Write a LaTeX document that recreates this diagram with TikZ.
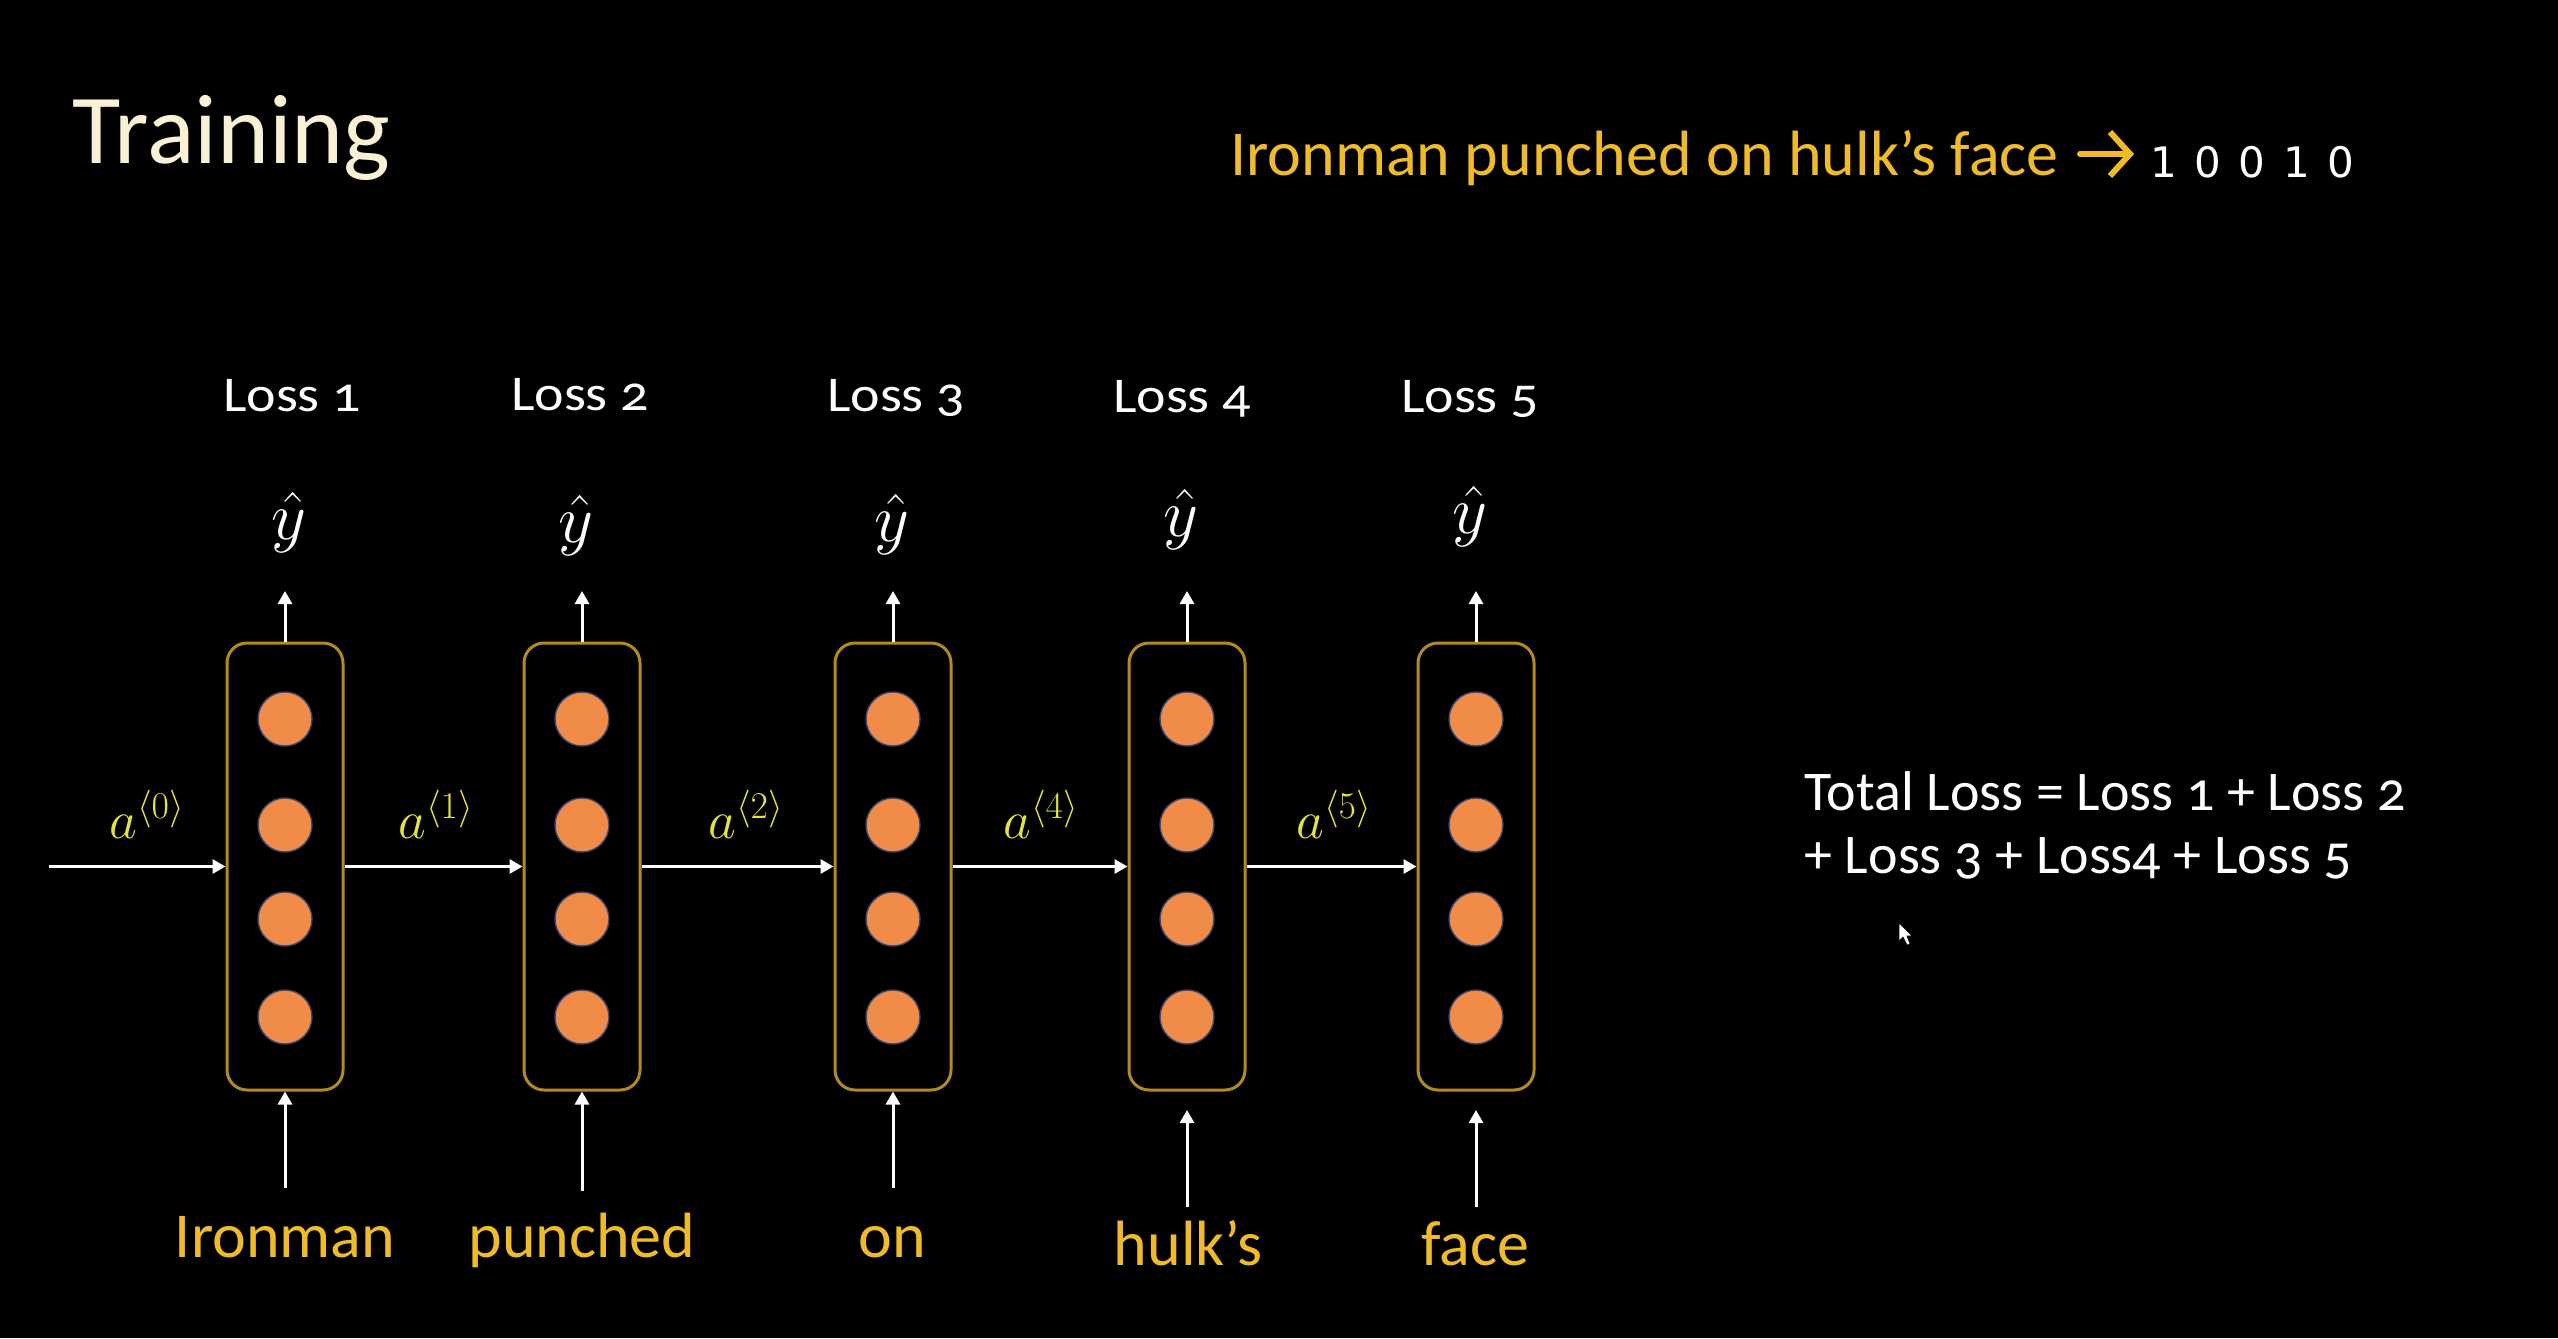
\RequirePackage{fix-cm}
\documentclass[tikz,border=0pt]{standalone}
\usepackage{fontspec}
\setmainfont{Carlito}[Numbers=OldStyle]
\newfontfamily\widefont{Carlito}[Numbers=OldStyle,FakeStretch=1.12]
\newfontfamily\digitfont{DejaVu Sans}[LetterSpace=10]
\usetikzlibrary{arrows.meta}
\definecolor{titlecream}{RGB}{250,240,212}
\definecolor{gold}{RGB}{240,187,40}
\definecolor{boxgold}{RGB}{178,138,30}
\definecolor{neuron}{RGB}{240,140,72}
\definecolor{neuronrim}{RGB}{55,70,115}
\definecolor{alabel}{RGB}{228,228,60}
\begin{document}
\begin{tikzpicture}[x=0.5pt,y=-0.5pt,
  txt/.style={inner sep=0pt,anchor=base},
  cell/.style={draw=boxgold,line width=1.5pt,rounded corners=10pt,minimum width=58pt,minimum height=223.5pt,inner sep=0pt},
  neu/.style={circle,fill=neuron,draw=neuronrim,line width=0.7pt,minimum size=27pt,inner sep=0pt},
  arr/.style={draw=white,line width=1.5pt,-{Triangle[length=6.5pt,width=7pt]}},
  losslbl/.style={txt,text=white,font=\widefont\fontsize{25}{28}\selectfont},
  yhat/.style={inner sep=0pt,text=white,font=\fontsize{34}{38}\selectfont},
  alab/.style={txt,text=alabel,font=\fontsize{27}{30}\selectfont},
  word/.style={txt,text=gold,font=\fontsize{32}{36}\selectfont}]
\fill[black] (0,0) rectangle (2558,1338);
\useasboundingbox (0,0) rectangle (2558,1338);

% titles
\node[txt,anchor=base west,text=titlecream,font=\fontsize{49.5}{56}\selectfont] (title) at (72,163) {Training};
\node[txt,anchor=base west,text=gold,font=\fontsize{32}{36}\selectfont] (sent) at (1230,175) {Ironman punched on hulk’s face};
\coordinate (ar1) at (2080,154);
\coordinate (ar2) at (2130,154);
\draw[gold,line width=3pt,line cap=round,line join=miter] (ar1) -- (ar2);
\draw[gold,line width=3pt,line join=miter] (2110,132) -- (ar2) -- (2110,176);
\node[txt,anchor=base west,text=white,font=\digitfont\fontsize{21}{24}\selectfont] (labels) at (2150,177) {1 0 0 1 0};

% cells
\foreach \i/\x in {1/285,2/582,3/893,4/1187,5/1476}{
  \node[cell] (b\i) at (\x,866.5) {};
  \node[neu] (c\i1) at (\x,719) {};
  \node[neu] (c\i2) at (\x,825) {};
  \node[neu] (c\i3) at (\x,919) {};
  \node[neu] (c\i4) at (\x,1017) {};
}

% loss labels
\node[losslbl] (l1) at (292,411) {Loss 1};
\node[losslbl] (l2) at (580,410) {Loss 2};
\node[losslbl] (l3) at (896,411) {Loss 3};
\node[losslbl] (l4) at (1182,412) {Loss 4};
\node[losslbl] (l5) at (1470,412) {Loss 5};

% yhat
\node[yhat] (y1) at (289,522) {$\hat{y}$};
\node[yhat] (y2) at (576,525) {$\hat{y}$};
\node[yhat] (y3) at (892,524) {$\hat{y}$};
\node[yhat] (y4) at (1181,519) {$\hat{y}$};
\node[yhat] (y5) at (1470,516) {$\hat{y}$};

% output arrows
\foreach \i/\x in {1/285,2/582,3/893,4/1187,5/1476}{
  \coordinate (t\i) at (\x,591);
  \draw[arr] (b\i.north) -- (t\i);
}

% recurrent arrows
\coordinate (in0) at (49,866.5);
\draw[arr] (in0) -- (b1.west);
\draw[arr] (b1.east) -- (b2.west);
\draw[arr] (b2.east) -- (b3.west);
\draw[arr] (b3.east) -- (b4.west);
\draw[arr] (b4.east) -- (b5.west);

% activation labels
\node[alab] (a0) at (147,838) {$a^{\langle 0\rangle}$};
\node[alab] (a1) at (436,838) {$a^{\langle 1\rangle}$};
\node[alab] (a2) at (746,838) {$a^{\langle 2\rangle}$};
\node[alab] (a4) at (1041,838) {$a^{\langle 4\rangle}$};
\node[alab] (a5) at (1334,838) {$a^{\langle 5\rangle}$};

% input words
\node[word] (w1) at (285,1257) {Ironman};
\node[word] (w2) at (582,1257) {punched};
\node[word] (w3) at (892,1257) {on};
\node[word] (w4) at (1188,1265) {hulk’s};
\node[word] (w5) at (1475,1265) {face};

\coordinate (s1) at (285,1188);
\coordinate (s2) at (582,1191);
\coordinate (s3) at (893,1188);
\coordinate (s4) at (1187,1207);
\coordinate (s5) at (1476,1207);
\coordinate (e4) at (1187,1110);
\coordinate (e5) at (1476,1110);
\draw[arr] (s1) -- (b1.south);
\draw[arr] (s2) -- (b2.south);
\draw[arr] (s3) -- (b3.south);
\draw[arr] (s4) -- (e4);
\draw[arr] (s5) -- (e5);

% total loss
\node[txt,anchor=base west,text=white,font=\fontsize{28}{32}\selectfont] (tot1) at (1804,810) {Total Loss = Loss 1 + Loss 2};
\node[txt,anchor=base west,text=white,font=\fontsize{28}{32}\selectfont] (tot2) at (1804,873) {+ Loss 3 + Loss4 + Loss 5};

% mouse pointer
\fill[white,draw=black,line width=0.3pt] (1899,923) -- (1899,941) -- (1903,937) -- (1907,945) -- (1910,944) -- (1907,936) -- (1912,936) -- cycle;
\end{tikzpicture}
\end{document}
